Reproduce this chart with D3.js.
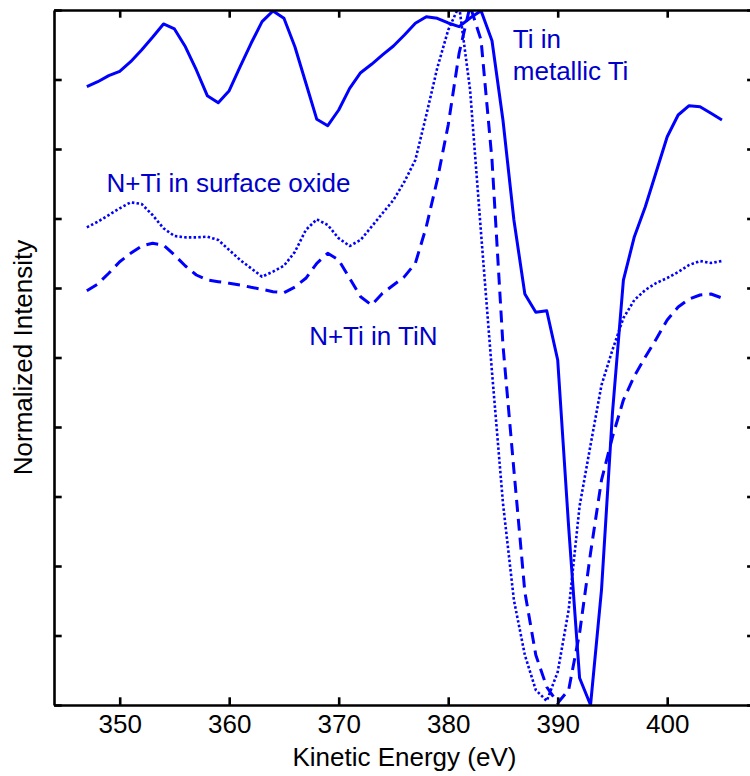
<!DOCTYPE html>
<html>
<head>
<meta charset="utf-8">
<script src="https://cdn.jsdelivr.net/npm/d3@7/dist/d3.min.js"></script>
<style>
  body { margin: 0; background: #fff; }
  svg { display: block; }
  text { font-family: "Liberation Sans", Arial, Helvetica, sans-serif; }
</style>
</head>
<body>
<svg id="chart"></svg>
<script>
// kinetic energy grid (eV), one point per eV
const energy = [347, 348, 349, 350, 351, 352, 353, 354, 355, 356, 357, 358, 359, 360,
  361, 362, 363, 364, 365, 366, 367, 368, 369, 370, 371, 372, 373, 374, 375, 376,
  377, 378, 379, 380, 381, 382, 383, 384, 385, 386, 387, 388, 389, 390, 391, 392,
  393, 394, 395, 396, 397, 398, 399, 400, 401, 402, 403, 404, 405];

// normalized intensity (0..100)
const metallicTi = [88.96, 89.68, 90.55, 91.18, 92.56, 94.24, 96.07, 97.99, 97.27, 94.71,
  91.37, 87.67, 86.66, 88.39, 91.84, 95.21, 98.32, 99.86, 98.81, 94.72,
  89.5, 84.27, 83.35, 85.61, 88.73, 90.98, 92.19, 93.53, 94.82, 96.4,
  98.09, 99.04, 98.81, 98.13, 97.6, 98.85, 99.9, 95.58, 84.17, 69.78,
  59.14, 56.5, 56.73, 49.64, 25.61, 3.88, 0, 16.55, 42.01, 61.15,
  67.38, 71.7, 76.73, 81.77, 84.89, 86.23, 86.09, 85.14, 84.17];

const surfaceOxide = [68.73, 69.54, 70.5, 71.47, 72.33, 72.09, 70.5, 68.59, 67.48, 67.29,
  67.29, 67.38, 66.91, 65.47, 64.03, 62.83, 61.63, 62.35, 63.2, 65.2,
  68.35, 69.88, 69.06, 67.15, 66.04, 66.91, 68.82, 70.75, 72.66, 75.29,
  78.42, 84.89, 91.65, 97.12, 100.6, 88.49, 67.91, 47.91, 29.06, 15.11,
  7.19, 2.16, 0.58, 4.75, 13.67, 28.63, 37.41, 46.04, 51.08, 55.68,
  58.27, 59.71, 60.72, 61.44, 62.3, 63.31, 63.88, 63.6, 63.88];

const tiN = [59.61, 60.58, 62.12, 63.78, 64.99, 66.04, 66.43, 66.19, 64.75, 63.17,
  61.87, 61.15, 60.91, 60.68, 60.43, 60.1, 59.81, 59.47, 59.32, 60.14,
  61.4, 63.55, 64.99, 64.03, 61.4, 58.75, 57.55, 59.24, 60.43, 61.63,
  63.55, 68.82, 75.54, 83.45, 93.81, 100.58, 95.68, 78.42, 51.8, 33.81,
  16.26, 7.19, 2.59, 0.29, 2.16, 10.36, 21.87, 32.37, 38.56, 43.88,
  47.34, 50.07, 52.66, 55.4, 57.27, 58.42, 58.99, 59.14, 58.56];

const xTicks = [350, 360, 370, 380, 390, 400];
const yTicks = [0, 10, 20, 30, 40, 50, 60, 70, 80, 90, 100];

const W = 750, H = 776;
const mLeft = 54, mTop = 10, mBottom = 705;
const mRight = mLeft + (408 - 344) * 10.95;

const svg = d3.select('#chart').attr('width', W).attr('height', H);

const x = d3.scaleLinear().domain([344, 408]).range([mLeft, mRight]);
const y = d3.scaleLinear().domain([0, 100]).range([mBottom, mTop]);

const blue = '#0000ff';
const textBlue = '#0000cc';

svg.append('clipPath').attr('id', 'plotclip')
  .append('rect')
  .attr('x', mLeft).attr('y', mTop)
  .attr('width', mRight - mLeft).attr('height', mBottom - mTop);

const line = d3.line()
  .x((d, i) => x(energy[i]))
  .y(d => y(d));

const series = [
  { values: metallicTi, dash: null, width: 3 },
  { values: surfaceOxide, dash: '2.5,2.2', width: 2.6 },
  { values: tiN, dash: '12,7', width: 3 }
];

const plot = svg.append('g').attr('clip-path', 'url(#plotclip)');
series.forEach(s => {
  plot.append('path')
    .datum(s.values)
    .attr('d', line)
    .attr('fill', 'none')
    .attr('stroke', blue)
    .attr('stroke-width', s.width)
    .attr('stroke-linejoin', 'round')
    .attr('stroke-dasharray', s.dash);
});

// axes, matlab style: ticks pointing inwards on all four sides
const tick = 7.7;
function styleAxis(g) {
  g.selectAll('path.domain').attr('stroke', '#000').attr('stroke-width', 2.6);
  g.selectAll('.tick line').attr('stroke', '#000').attr('stroke-width', 2.6);
}

const gx = svg.append('g').attr('transform', `translate(0,${mBottom})`)
  .call(d3.axisBottom(x).tickValues(xTicks).tickSizeInner(-tick).tickSizeOuter(0));
gx.selectAll('text')
  .attr('y', 28).attr('dy', 0)
  .attr('font-size', 26).attr('fill', '#000')
  .style('font-family', '"Liberation Sans", Arial, sans-serif');
styleAxis(gx);

const gt = svg.append('g').attr('transform', `translate(0,${mTop})`)
  .call(d3.axisTop(x).tickValues(xTicks).tickSizeInner(-tick).tickSizeOuter(0).tickFormat(''));
styleAxis(gt);

const gl = svg.append('g').attr('transform', `translate(${mLeft},0)`)
  .call(d3.axisLeft(y).tickValues(yTicks).tickSizeInner(-tick).tickSizeOuter(0).tickFormat(''));
styleAxis(gl);

const gr = svg.append('g').attr('transform', `translate(${mRight},0)`)
  .call(d3.axisRight(y).tickValues(yTicks).tickSizeInner(-tick).tickSizeOuter(0).tickFormat(''));
styleAxis(gr);

// axis titles
svg.append('text')
  .attr('x', (mLeft + mRight) / 2).attr('y', 766)
  .attr('text-anchor', 'middle')
  .attr('font-size', 26)
  .text('Kinetic Energy (eV)');

svg.append('text')
  .attr('transform', `translate(32,${(mTop + mBottom) / 2}) rotate(-90)`)
  .attr('text-anchor', 'middle')
  .attr('font-size', 26)
  .text('Normalized Intensity');

// curve labels, placed in data coordinates
const labels = [
  { text: 'Ti in', e: 385.9, v: 94.5 },
  { text: 'metallic Ti', e: 385.9, v: 89.9 },
  { text: 'N+Ti in surface oxide', e: 348.8, v: 73.86 },
  { text: 'N+Ti in TiN', e: 367.3, v: 51.8 }
];
svg.selectAll('text.lbl').data(labels).join('text')
  .attr('class', 'lbl')
  .attr('x', d => x(d.e)).attr('y', d => y(d.v))
  .attr('font-size', 26)
  .attr('fill', textBlue)
  .text(d => d.text);
</script>
</body>
</html>
